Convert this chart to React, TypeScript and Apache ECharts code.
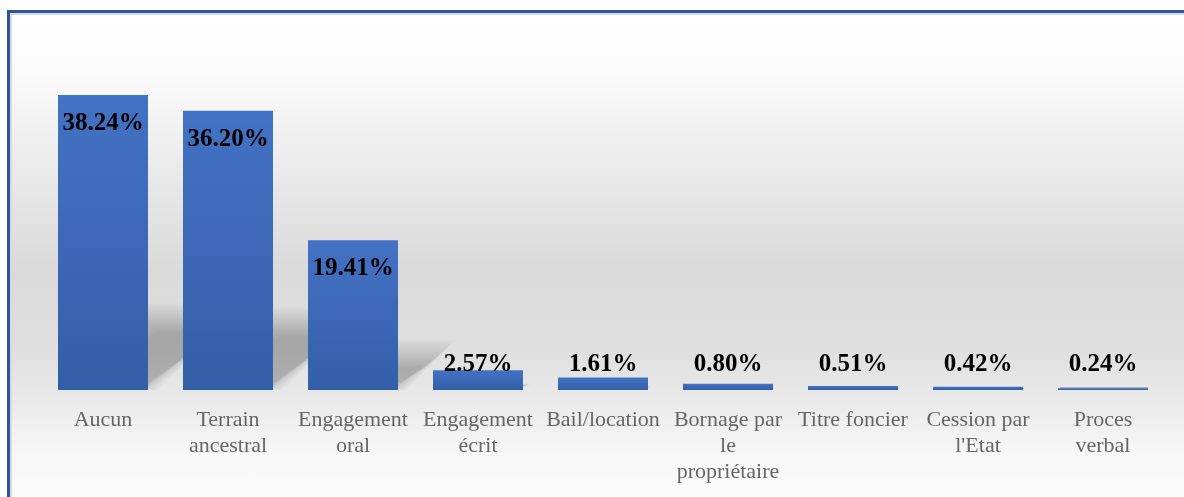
import React, { useEffect, useRef } from "react";
import * as echarts from "echarts";

const categories = [
  "Aucun",
  "Terrain\nancestral",
  "Engagement\noral",
  "Engagement\nécrit",
  "Bail/location",
  "Bornage par\nle\npropriétaire",
  "Titre foncier",
  "Cession par\nl'Etat",
  "Proces\nverbal",
];
const values = [38.24, 36.2, 19.41, 2.57, 1.61, 0.8, 0.51, 0.42, 0.24];

const SERIF = "'Liberation Serif', 'Times New Roman', Times, serif";

export default function App() {
  const ref = useRef<HTMLDivElement>(null);
  useEffect(() => {
    const chart = echarts.init(ref.current!, null, { renderer: "svg" });
    const labelFont = {
      fontFamily: SERIF,
      fontWeight: "bold" as const,
      fontSize: 25,
      color: "#000",
    };
    const barData = values.map((v) => ({
      value: v,
      label:
        v > 10
          ? { position: "insideTop", distance: 14 }
          : { position: "insideBottom", distance: 15 },
    }));
    chart.setOption({
      animation: false,
      textStyle: { fontFamily: SERIF },
      graphic: [
        {
          type: "rect",
          z: -100,
          silent: true,
          shape: { x: 8.5, y: 11.5, width: 1200, height: 520 },
          style: {
            fill: {
              type: "linear",
              x: 0,
              y: 0,
              x2: 0,
              y2: 1,
              colorStops: [
                { offset: 0, color: "#ffffff" },
                { offset: 0.12, color: "#fbfbfb" },
                { offset: 0.35, color: "#e6e6e6" },
                { offset: 0.5, color: "#dadada" },
                { offset: 0.65, color: "#dfdfdf" },
                { offset: 0.75, color: "#eaeaea" },
                { offset: 0.85, color: "#f7f7f7" },
                { offset: 1, color: "#ffffff" },
              ],
            },
            stroke: "#2f5597",
            lineWidth: 3,
          },
        },
        {
          type: "rect",
          z: -99,
          silent: true,
          shape: { x: 11, y: 14, width: 1200, height: 520 },
          style: { fill: "none", stroke: "#d9d9d9", lineWidth: 2 },
        },
      ],
      grid: { left: 40.5, right: 18.5, top: 42.9, bottom: 107, containLabel: false },
      xAxis: {
        type: "category",
        data: categories,
        axisLine: { show: false },
        axisTick: { show: false },
        axisLabel: {
          interval: 0,
          margin: 15,
          color: "#666666",
          fontFamily: SERIF,
          fontSize: 22,
          lineHeight: 26,
          formatter: (val: string) =>
            val
              .split("\n")
              .map((line) => "{a|" + line + "}")
              .join("\n"),
          rich: {
            a: {
              fontFamily: SERIF,
              fontSize: 22,
              lineHeight: 26,
              color: "#666666",
            },
          },
        },
      },
      yAxis: {
        type: "value",
        min: 0,
        max: 45,
        show: false,
        splitLine: { show: false },
      },
      series: [
        {
          type: "custom",
          z: 1,
          silent: true,
          encode: { x: 0, y: 1 },
          data: values.map((v, i) => [i, v]),
          renderItem: (params: any, api: any) => {
            const idx = api.value(0);
            const v = api.value(1);
            const base = api.coord([idx, 0]);
            const top = api.coord([idx, v]);
            const h = base[1] - top[1];
            const bw = api.size([1, 0])[0] * 0.72;
            const x0 = base[0] - bw / 2;
            const x1 = base[0] + bw / 2;
            const by = base[1];
            const kh = 0.245 * h;
            const s = 1.2 * kh;
            const ty = by - kh;
            const r = Math.min(15, kh * 0.4);
            const children: any[] = [];
            const n = 28;
            for (let j = 0; j < n; j++) {
              const d = r - (2 * r * j) / (n - 1);
              const bx = Math.max(0, d);
              children.push({
                type: "polygon",
                shape: {
                  points: [
                    [x0 + 2, by - 3 + d * 0.25],
                    [x1 + bx * 0.6, by - 3 + d * 0.25],
                    [x1 + s + d, ty - d],
                    [x0 + s - d, ty - d],
                  ],
                },
                style: { fill: "rgba(0,0,0,0.0072)" },
              });
            }
            return { type: "group", children };
          },
        },
        {
          type: "bar",
          z: 2,
          data: barData,
          barWidth: "72%",
          itemStyle: {
            color: {
              type: "linear",
              x: 0,
              y: 0,
              x2: 0,
              y2: 1,
              colorStops: [
                { offset: 0, color: "#4472c4" },
                { offset: 1, color: "#335ea8" },
              ],
            },
          },
          label: {
            show: true,
            ...labelFont,
            formatter: (p: any) => Number(p.value).toFixed(2) + "%",
          },
        },
      ],
    });
    return () => chart.dispose();
  }, []);
  return (
    <div
      ref={ref}
      style={{ position: "fixed", left: 0, top: 0, width: 1184, height: 497 }}
    />
  );
}
